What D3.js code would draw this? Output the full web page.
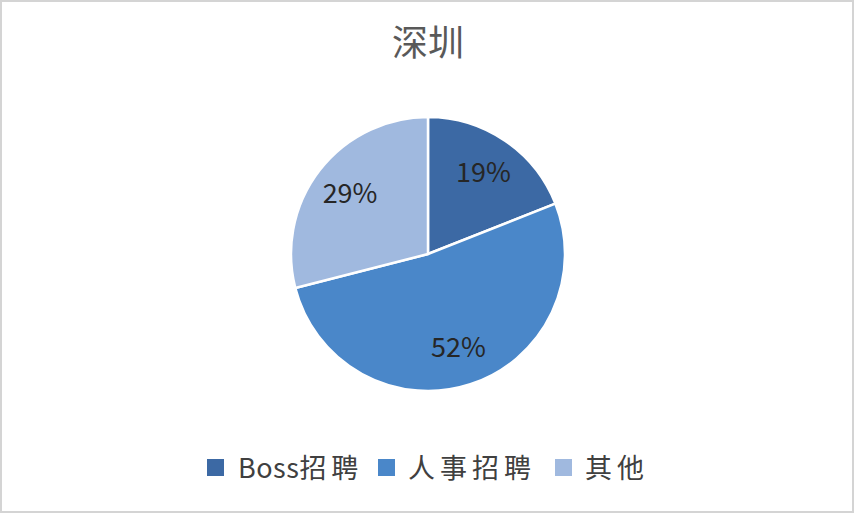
<!DOCTYPE html>
<html>
<head>
<meta charset="utf-8">
<script src="https://cdn.jsdelivr.net/npm/d3@7"></script>
<style>
  html, body { margin: 0; padding: 0; background: #fff; }
  svg { display: block; }
  text { font-family: "Noto Sans CJK SC", "Noto Sans", sans-serif; }
</style>
</head>
<body>
<svg id="chart" width="856" height="515"></svg>
<script>
const title = '深圳'
const categories = ['Boss招聘', '人事招聘', '其他']
const values = [19, 52, 29]
const colors = ['#3c69a4', '#4a87c9', '#a0b9df']

const width = 856
const height = 515
const cx = 428
const cy = 254
const radius = 137

const svg = d3.select('#chart')

// frame
svg.append('rect')
	.attr('x', 1).attr('y', 1)
	.attr('width', width - 4).attr('height', height - 4)
	.attr('fill', '#fff')
	.attr('stroke', '#d4d4d4')
	.attr('stroke-width', 2)

svg.append('text')
	.attr('x', cx)
	.attr('y', 56)
	.attr('text-anchor', 'middle')
	.attr('font-size', 36)
	.attr('fill', '#595959')
	.text(title)

const data = categories.map((c, i) => ({ name: c, value: values[i] }))

const pie = d3.pie()
	.value(d => d.value)
	.sort(null)

const arc = d3.arc()
	.innerRadius(0)
	.outerRadius(radius)

const labelArc = d3.arc()
	.innerRadius(radius * 0.72)
	.outerRadius(radius * 0.72)

const color = d3.scaleOrdinal()
	.domain(categories)
	.range(colors)

const g = svg.append('g')
	.attr('transform', `translate(${cx},${cy})`)

const arcs = pie(data)

g.selectAll('path')
	.data(arcs)
	.join('path')
	.attr('d', arc)
	.attr('fill', d => color(d.data.name))
	.attr('stroke', '#fff')
	.attr('stroke-width', 2.5)

const total = d3.sum(values)

g.selectAll('text')
	.data(arcs)
	.join('text')
	.attr('transform', d => `translate(${labelArc.centroid(d)})`)
	.attr('text-anchor', 'middle')
	.attr('dy', '0.35em')
	.attr('font-size', 27)
	.attr('fill', '#262626')
	.text(d => Math.round(d.data.value / total * 100) + '%')

// legend
const legendItems = [
	{ name: categories[0], x: 207, tx: 238 },
	{ name: categories[1], x: 378, tx: 408 },
	{ name: categories[2], x: 555, tx: 585 }
]

const legend = svg.append('g')

legend.selectAll('rect')
	.data(legendItems)
	.join('rect')
	.attr('x', d => d.x)
	.attr('y', 459)
	.attr('width', 17)
	.attr('height', 17)
	.attr('fill', d => color(d.name))

// latin runs normal, chinese runs a bit wider like the original font
legend.selectAll('text')
	.data(legendItems)
	.join('text')
	.attr('x', d => d.tx)
	.attr('y', 478)
	.attr('font-size', 27)
	.attr('fill', '#404040')
	.selectAll('tspan')
	.data(d => d.name.match(/[A-Za-z]+|[^A-Za-z]+/g))
	.join('tspan')
	.attr('letter-spacing', s => /[A-Za-z]/.test(s) ? 0.5 : 5)
	.text(s => s)
</script>
</body>
</html>
